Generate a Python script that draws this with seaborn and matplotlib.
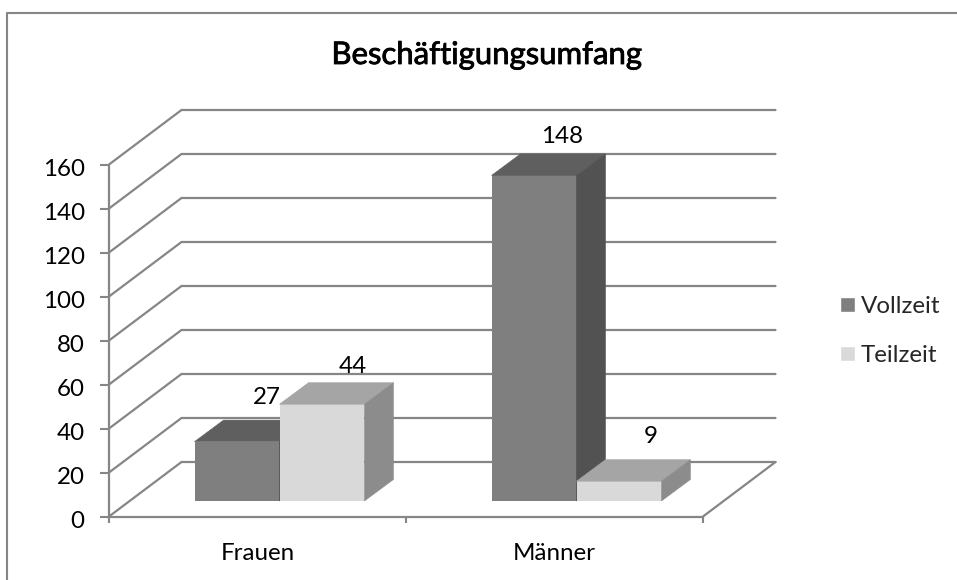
import pandas as pd
import matplotlib.pyplot as plt
import matplotlib.patheffects as pe
from matplotlib.lines import Line2D
from matplotlib.patches import Polygon
from matplotlib.transforms import ScaledTranslation
import seaborn as sns

categories = ['Frauen', 'Männer']
vollzeit = [27, 148]
teilzeit = [44, 9]
y_ticks = [0, 20, 40, 60, 80, 100, 120, 140, 160]
title = 'Beschäftigungsumfang'

W, H = 957, 580
GREY = '#868686'
FONT = 17.4

# colours per series: front, top, side
faces = {
    'Vollzeit': ('#7f7f7f', '#5f5f5f', '#525252'),
    'Teilzeit': ('#d9d9d9', '#a5a5a5', '#8c8c8c'),
}

df = pd.DataFrame({
    'Gruppe': categories * 2,
    'Umfang': ['Vollzeit'] * 2 + ['Teilzeit'] * 2,
    'Anzahl': vollzeit + teilzeit,
})

sns.set_theme(style='white')
plt.rcParams['font.family'] = ['Lato', 'DejaVu Sans']

fig = plt.figure(figsize=(W / 100, H / 100), dpi=100)
ax = fig.add_axes([109 / W, 1 - 516.5 / H, 594 / W, 352 / H])

sns.barplot(data=df, x='Gruppe', y='Anzahl', hue='Umfang', ax=ax, width=0.572, gap=0,
            saturation=1, palette={k: v[0] for k, v in faces.items()})
ax.set_xlim(-0.5, 1.5)
ax.set_ylim(0, 160)

# oblique projection: pixel sizes converted to data units
px_x = 2 / 594
px_y = 160 / 352
wall_dx, wall_dy = 72.5 * px_x, 54.5 * px_y
bar_dx, bar_dy = 22 * px_x, 15.5 * px_y
depth_dx, depth_dy = 29 * px_x, 21.5 * px_y

# wall and floor lines
for v in y_ticks:
    ax.plot([-0.5, -0.5 + wall_dx, 1.5 + wall_dx], [v, v + wall_dy, v + wall_dy],
            color=GREY, lw=1.6, clip_on=False, zorder=1, solid_joinstyle='miter')
ax.plot([1.5, 1.5 + wall_dx], [0, wall_dy], color=GREY, lw=1.6, clip_on=False, zorder=1)

# label height above the bar, in points (Excel places them unevenly)
label_lift = {27: 16, 44: 12, 148: 12.5, 9: 17}
label_shift = {27: 0.5, 44: 1.5, 148: -1, 9: 2}

# shift the bars back and add top + side faces
for i, container in enumerate(ax.containers):
    front, top, side = list(faces.values())[i]
    for bar in container:
        bar.set_x(bar.get_x() + bar_dx)
        bar.set_y(bar_dy)
        bar.set_zorder(3 + i)
        bar.set_clip_on(False)
        bar.set_edgecolor('none')
        x0, x1 = bar.get_x(), bar.get_x() + bar.get_width()
        y0, y1 = bar_dy, bar_dy + bar.get_height()
        ax.add_patch(Polygon([(x0, y1), (x1, y1), (x1 + depth_dx, y1 + depth_dy), (x0 + depth_dx, y1 + depth_dy)],
                             fc=top, ec=top, lw=0.4, zorder=3 + i, clip_on=False))
        ax.add_patch(Polygon([(x1, y0), (x1 + depth_dx, y0 + depth_dy), (x1 + depth_dx, y1 + depth_dy), (x1, y1)],
                             fc=side, ec=side, lw=0.4, zorder=3 + i, clip_on=False))
        val = int(round(bar.get_height()))
        ax.annotate(str(val), ((x0 + x1) / 2 + depth_dx, y1 + depth_dy),
                    xytext=(label_shift[val], label_lift[val]), textcoords='offset points',
                    ha='center', va='center', fontsize=FONT, color='black', zorder=8,
                    annotation_clip=False)

# axes
sns.despine(ax=ax)
for s in ['left', 'bottom']:
    ax.spines[s].set_color(GREY)
    ax.spines[s].set_linewidth(1.6)
ax.set_xlabel('')
ax.set_ylabel('')
ax.set_yticks(y_ticks)
ax.tick_params(axis='y', length=6.5, width=1.5, color=GREY, pad=11, labelsize=FONT, labelcolor='black', left=True)
for lab in ax.get_yticklabels():
    lab.set_transform(lab.get_transform() + ScaledTranslation(0, -2 / 72, fig.dpi_scale_trans))
ax.set_xticks([-0.5, 0.5, 1.5], ['', '', ''])
ax.set_xticks([0, 1], categories, minor=True)
ax.tick_params(axis='x', which='major', length=4.5, width=1.5, color=GREY, bottom=True)
ax.tick_params(axis='x', which='minor', length=0, pad=19, labelsize=FONT, labelcolor='black')

# legend
handles = [plt.Rectangle((0, 0), 1, 1, fc=v[0]) for v in faces.values()]
ax.legend(handles, list(faces), loc='center left', bbox_to_anchor=(840 / W, 1 - 331 / H),
          bbox_transform=fig.transFigure, frameon=False, fontsize=FONT, handlelength=0.62,
          handleheight=0.62, handletextpad=0.25, labelspacing=1.17, borderpad=0, borderaxespad=0)

t = fig.text(487 / W, 1 - 55 / H, title, ha='center', va='center', fontsize=22.4, color='black')
t.set_path_effects([pe.withStroke(linewidth=0.6, foreground='black')])

# chart frame, cropped at right and bottom
fig.add_artist(Line2D([7.5 / W, 7.5 / W, 1], [0, 1 - 12.5 / H, 1 - 12.5 / H], color=GREY, lw=1.5))

fig.savefig('out.png', dpi=100)
